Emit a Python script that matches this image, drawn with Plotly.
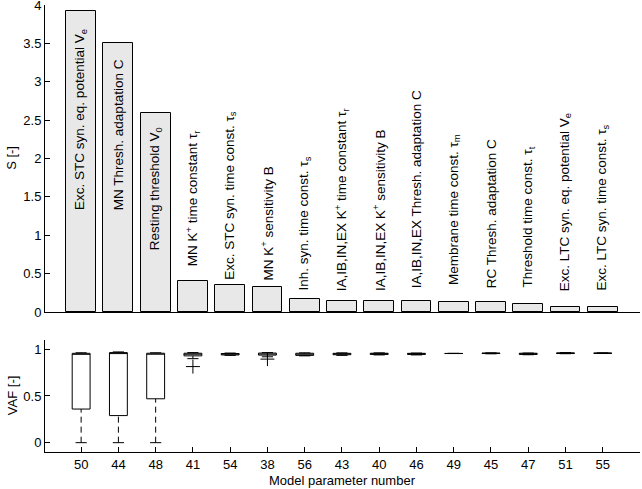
import plotly.graph_objects as go

# ---------------- data ----------------
param_numbers = ["50", "44", "48", "41", "54", "38", "56", "43", "40", "46", "49", "45", "47", "51", "55"]
param_labels = [
    "Exc. STC syn. eq. potential V<sub>e</sub>",
    "MN Thresh. adaptation C",
    "Resting threshold V<sub>0</sub>",
    "MN K<sup>+</sup> time constant τ<sub>r</sub>",
    "Exc. STC syn. time const. τ<sub>s</sub>",
    "MN K<sup>+</sup> sensitivity B",
    "Inh. syn. time const. τ<sub>s</sub>",
    "IA,IB,IN,EX K<sup>+</sup> time constant τ<sub>r</sub>",
    "IA,IB,IN,EX K<sup>+</sup> sensitivity B",
    "IA,IB,IN,EX Thresh. adaptation C",
    "Membrane time const. τ<sub>m</sub>",
    "RC Thresh. adaptation C",
    "Threshold time const. τ<sub>t</sub>",
    "Exc. LTC syn. eq. potential V<sub>e</sub>",
    "Exc. LTC syn. time const. τ<sub>s</sub>",
]
sensitivity = [3.92, 3.51, 2.60, 0.40, 0.35, 0.32, 0.17, 0.14, 0.14, 0.14, 0.13, 0.13, 0.11, 0.065, 0.065]

# VAF box statistics
vaf_lower = [0.0, 0.0, 0.0, 0.90, 0.935, 0.92, 0.93, 0.935, 0.94, 0.94, 0.955, 0.952, 0.942, 0.953, 0.955]
vaf_q1 = [0.36, 0.29, 0.47, 0.93, 0.94, 0.938, 0.935, 0.942, 0.945, 0.945, 0.955, 0.955, 0.945, 0.955, 0.957]
vaf_median = [0.955, 0.96, 0.955, 0.95, 0.948, 0.95, 0.948, 0.95, 0.952, 0.952, 0.955, 0.957, 0.952, 0.958, 0.958]
vaf_q3 = [0.957, 0.965, 0.958, 0.958, 0.955, 0.96, 0.958, 0.957, 0.958, 0.957, 0.956, 0.96, 0.958, 0.962, 0.96]
vaf_upper = [0.963, 0.972, 0.963, 0.965, 0.96, 0.965, 0.962, 0.962, 0.962, 0.96, 0.957, 0.962, 0.96, 0.965, 0.962]
outlier_index = [3, 5]
outlier_value = [0.815, 0.895]

# ---------------- style / layout helpers ----------------
label_base = [1.3, 1.3, 0.78, 0.57, 0.39, 0.39, 0.25, 0.25, 0.25, 0.29, 0.33, 0.29, 0.29, 0.25, 0.25]
FONT = "Liberation Sans, Arial, sans-serif"
FS = 13
LFS = 13.5
BOX_W = 0.48
CAP_W = 0.3

pos = list(range(1, len(param_numbers) + 1))

fig = go.Figure()

# bars
fig.add_trace(go.Bar(
    x=pos, y=sensitivity, width=0.8,
    marker=dict(color="#e8e8e8", line=dict(color="black", width=1)),
    xaxis="x", yaxis="y", showlegend=False, hoverinfo="y",
))

# boxes (box + median)
fig.add_trace(go.Box(
    x=pos, q1=vaf_q1, median=vaf_median, q3=vaf_q3,
    lowerfence=vaf_q1, upperfence=vaf_q3,
    width=BOX_W, whiskerwidth=0, boxpoints=False,
    fillcolor="white", line=dict(color="black", width=1),
    xaxis="x2", yaxis="y2", showlegend=False,
))

# dashed whiskers
wx, wy = [], []
for p, lo, q1, q3, hi in zip(pos, vaf_lower, vaf_q1, vaf_q3, vaf_upper):
    wx += [p, p, None, p, p, None]
    wy += [lo, q1, None, q3, hi, None]
fig.add_trace(go.Scatter(
    x=wx, y=wy, mode="lines", line=dict(color="black", width=1, dash="6px,4px"),
    xaxis="x2", yaxis="y2", showlegend=False, hoverinfo="skip",
))

# whisker caps
cx, cy = [], []
for p, lo, hi in zip(pos, vaf_lower, vaf_upper):
    cx += [p - CAP_W / 2, p + CAP_W / 2, None, p - CAP_W / 2, p + CAP_W / 2, None]
    cy += [lo, lo, None, hi, hi, None]
fig.add_trace(go.Scatter(
    x=cx, y=cy, mode="lines", line=dict(color="black", width=1),
    xaxis="x2", yaxis="y2", showlegend=False, hoverinfo="skip",
))

# outliers
fig.add_trace(go.Scatter(
    x=[pos[i] for i in outlier_index], y=outlier_value, mode="markers",
    marker=dict(symbol="cross-thin", size=10, line=dict(color="black", width=1)),
    xaxis="x2", yaxis="y2", showlegend=False,
))

annotations = []
for p, lab, yb in zip(pos, param_labels, label_base):
    annotations.append(dict(
        x=p, y=yb, xref="x", yref="y", text=lab, textangle=-90,
        showarrow=False, xanchor="center", yanchor="bottom",
        font=dict(family=FONT, size=LFS, color="black"),
    ))

# axis titles
annotations += [
    dict(x=0, y=0.658, xref="paper", yref="paper", xshift=-33, text="S [-]", textangle=-90,
         showarrow=False, xanchor="center", yanchor="middle", font=dict(family=FONT, size=FS)),
    dict(x=0, y=0.125, xref="paper", yref="paper", xshift=-33, text="VAF [-]", textangle=-90,
         showarrow=False, xanchor="center", yanchor="middle", font=dict(family=FONT, size=FS)),
    dict(x=0.5, y=0, xref="paper", yref="paper", yshift=-28, text="Model parameter number",
         showarrow=False, xanchor="center", yanchor="middle", font=dict(family=FONT, size=FS)),
]

axis_common = dict(showline=True, linecolor="black", linewidth=1, mirror=False,
                   showgrid=False, zeroline=False, automargin=False, ticklabeloverflow="allow",
                   tickfont=dict(family=FONT, size=FS, color="black"))

fig.update_layout(
    width=642, height=489,
    margin=dict(l=45, r=2, t=5, b=37),
    paper_bgcolor="white", plot_bgcolor="white",
    font=dict(family=FONT, size=FS, color="black"),
    bargap=0,
    xaxis=dict(domain=[0, 1], range=[0.03, 16], anchor="y", showticklabels=False,
               ticks="", **axis_common),
    yaxis=dict(domain=[0.3132, 1], range=[0, 4.002], tickvals=[0, 0.5, 1, 1.5, 2, 2.5, 3, 3.5, 4],
               ticktext=["0", "0.5", "1", "1.5", "2", "2.5", "3", "3.5", "4"],
               ticks="inside", ticklen=5, tickcolor="black", anchor="x", **axis_common),
    xaxis2=dict(domain=[0, 1], range=[0.03, 16], anchor="y2", tickvals=pos, ticktext=param_numbers,
                ticks="inside", ticklen=5, tickcolor="black", **axis_common),
    yaxis2=dict(domain=[0, 0.2506], range=[-0.1, 1.1], tickvals=[0, 0.5, 1], ticktext=["0", "0.5", "1"],
                ticks="inside", ticklen=5, tickcolor="black", anchor="x2", **axis_common),
    annotations=annotations,
)

fig.write_html("out.html", config={"displayModeBar": False},
               post_script="document.body.style.margin='0px';")
